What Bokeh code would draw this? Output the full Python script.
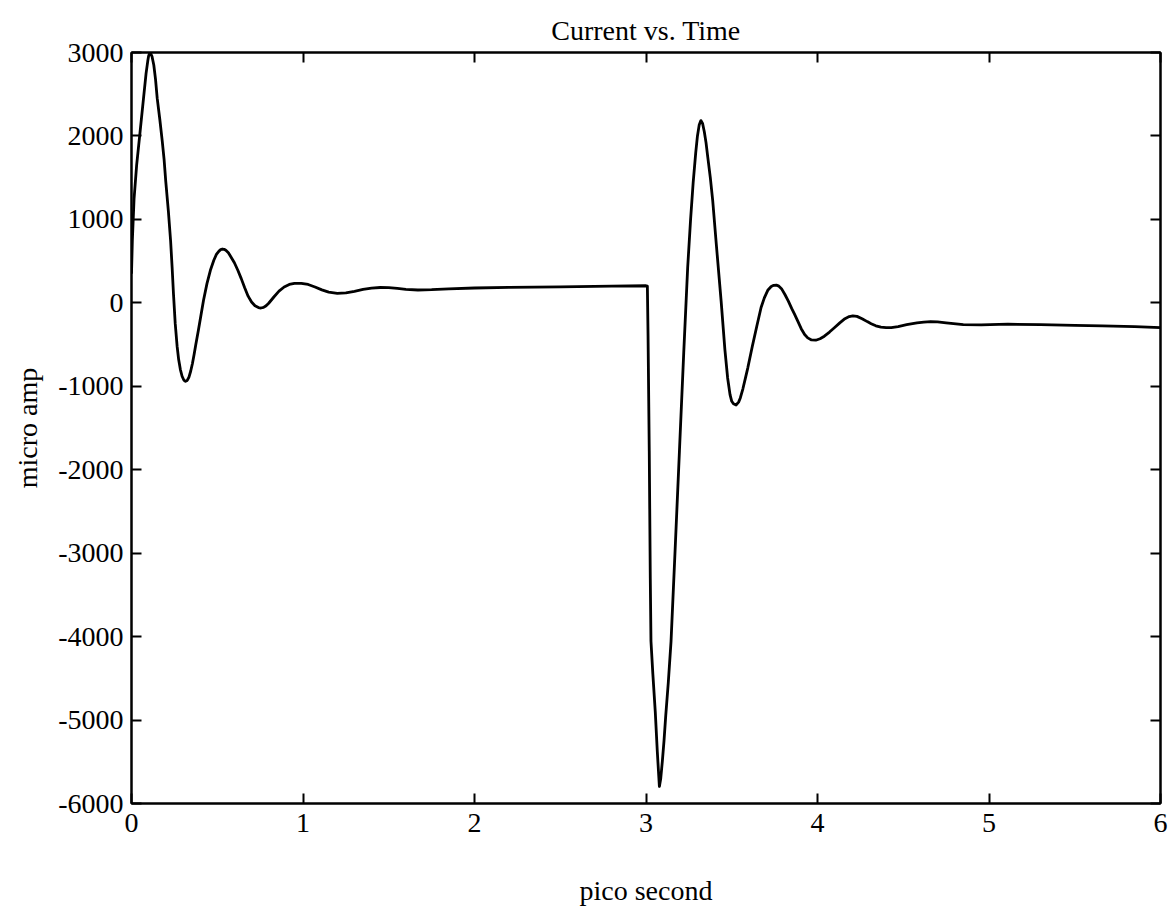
from bokeh.plotting import figure
from bokeh.models import LinearAxis, FixedTicker, Range1d
from bokeh.embed import file_html
from bokeh.resources import INLINE

title_text = "Current vs. Time"
x_label = "pico second"
y_label = "micro amp"
x_ticks = [0, 1, 2, 3, 4, 5, 6]
y_ticks = [-6000, -5000, -4000, -3000, -2000, -1000, 0, 1000, 2000, 3000]

# time (ps) and current (micro amp)
t_ps = [0, 0.005, 0.015, 0.03, 0.05, 0.07, 0.085, 0.095, 0.1, 0.105, 0.11,
        0.12, 0.13, 0.14, 0.15, 0.165, 0.179, 0.19, 0.2, 0.215, 0.228, 0.237,
        0.245, 0.255, 0.266, 0.275, 0.285, 0.295, 0.305, 0.315, 0.325, 0.335,
        0.345, 0.355, 0.365, 0.375, 0.39, 0.405, 0.42, 0.44, 0.46, 0.48, 0.495,
        0.51, 0.52, 0.53, 0.54, 0.55, 0.565, 0.58, 0.60, 0.62, 0.64, 0.66,
        0.68, 0.70, 0.72, 0.74, 0.755, 0.77, 0.785, 0.80, 0.83, 0.86, 0.89,
        0.92, 0.95, 0.99, 1.03, 1.07, 1.11, 1.15, 1.20, 1.25, 1.30, 1.35,
        1.40, 1.45, 1.50, 1.55, 1.60, 1.67, 1.75, 1.85, 2.0, 2.2, 2.5, 2.8,
        3.0, 3.008, 3.012, 3.019, 3.025, 3.029, 3.04, 3.054, 3.066, 3.078,
        3.086, 3.095, 3.105, 3.115, 3.13, 3.146, 3.17, 3.195, 3.22, 3.243,
        3.26, 3.275, 3.29, 3.30, 3.31, 3.32, 3.33, 3.34, 3.35, 3.36, 3.375,
        3.389, 3.41, 3.438, 3.46, 3.476, 3.49, 3.50, 3.51, 3.525, 3.54, 3.55,
        3.565, 3.58, 3.594, 3.62, 3.646, 3.671, 3.69, 3.71, 3.73, 3.745, 3.76,
        3.775, 3.79, 3.81, 3.83, 3.85, 3.866, 3.885, 3.905, 3.925, 3.943,
        3.965, 3.99, 4.015, 4.04, 4.07, 4.10, 4.13, 4.16, 4.185, 4.206, 4.23,
        4.26, 4.29, 4.313, 4.34, 4.37, 4.40, 4.43, 4.47, 4.52, 4.58, 4.62,
        4.66, 4.70, 4.75, 4.85, 4.955, 5.11, 5.30, 5.50, 5.66, 5.85, 6.0]
i_uA = [350, 750, 1250, 1650, 2050, 2450, 2750, 2900, 2960, 2990, 2995,
        2950, 2850, 2680, 2450, 2200, 1944, 1720, 1450, 1100, 744, 420,
        100, -250, -520, -680, -800, -880, -925, -940, -930, -890,
        -820, -730, -620, -500, -330, -150, 30, 230, 390, 510, 580,
        620, 638, 645, 642, 630, 600, 550, 480, 390, 290, 180,
        80, 10, -35, -56, -62, -55, -35, -5, 70, 140, 190,
        220, 233, 234, 220, 190, 155, 128, 114, 120, 138, 160,
        177, 184, 182, 172, 162, 154, 158, 168, 178, 185, 192, 200,
        205, 200, -400, -1776, -3300, -4056, -4450, -4900, -5380, -5796,
        -5700, -5500, -5250, -4950, -4550, -4056, -2950, -1776, -600, 424,
        1000, 1440, 1800, 2000, 2130, 2184, 2150, 2050, 1920, 1750, 1500,
        1224, 700, 24, -560, -900, -1100, -1180, -1210, -1224, -1190, -1140,
        -1030, -900, -776, -520, -280, -56, 60, 150, 195, 210, 212,
        200, 170, 100, 20, -70, -136, -220, -310, -380, -420,
        -445, -448, -430, -400, -350, -296, -240, -190, -165, -156, -162,
        -190, -225, -250, -275, -290, -296, -296, -285, -262, -240, -230,
        -224, -228, -240, -262, -264, -256, -262, -270, -276, -285, -296]

FONT = "Liberation Serif"

p = figure(width=1168, height=913, output_backend="svg", toolbar_location=None,
           x_range=Range1d(0, 6), y_range=Range1d(-6000, 3000),
           title=title_text, x_axis_label=x_label, y_axis_label=y_label,
           min_border_left=131, min_border_right=8, min_border_top=52,
           min_border_bottom=110, background_fill_color="white",
           border_fill_color="white")

p.line(t_ps, i_uA, line_color="black", line_width=2.8, line_join="round")

p.xgrid.visible = False
p.ygrid.visible = False
p.outline_line_color = "black"
p.outline_line_width = 2

p.title.text_font = FONT
p.title.text_font_size = "28px"
p.title.text_font_style = "normal"
p.title.align = "center"
p.title.text_color = "black"
p.title.standoff = 14

for ax in (p.xaxis[0], p.yaxis[0]):
    ax.major_label_text_font = FONT
    ax.major_label_text_font_size = "28px"
    ax.major_label_text_color = "black"
    ax.axis_label_text_font = FONT
    ax.axis_label_text_font_size = "28px"
    ax.axis_label_text_font_style = "normal"
    ax.axis_label_text_color = "black"
    ax.major_tick_in = 10
    ax.major_tick_out = 0
    ax.minor_tick_in = 0
    ax.minor_tick_out = 0
    ax.axis_line_color = "black"
    ax.axis_line_width = 2
    ax.major_tick_line_width = 2

p.xaxis[0].ticker = FixedTicker(ticks=x_ticks)
p.yaxis[0].ticker = FixedTicker(ticks=y_ticks)
p.xaxis[0].major_label_overrides = {t: str(t) for t in x_ticks}
p.yaxis[0].major_label_overrides = {t: str(t) for t in y_ticks}
p.xaxis[0].major_label_standoff = 10
p.xaxis[0].axis_label_standoff = 40
p.yaxis[0].major_label_standoff = 8
p.yaxis[0].axis_label_standoff = 12

top = LinearAxis(ticker=FixedTicker(ticks=x_ticks))
right = LinearAxis(ticker=FixedTicker(ticks=y_ticks))
top.major_label_overrides = {t: "" for t in x_ticks}
right.major_label_overrides = {t: "" for t in y_ticks}
for ax in (top, right):
    ax.major_label_text_font_size = "1px"
    ax.major_label_standoff = 0
    ax.major_tick_in = 10
    ax.major_tick_out = 0
    ax.minor_tick_in = 0
    ax.minor_tick_out = 0
    ax.axis_line_color = "black"
    ax.axis_line_width = 2
    ax.major_tick_line_width = 2
p.add_layout(top, "above")
p.add_layout(right, "right")

open("out.html", "w").write(file_html(p, INLINE))
